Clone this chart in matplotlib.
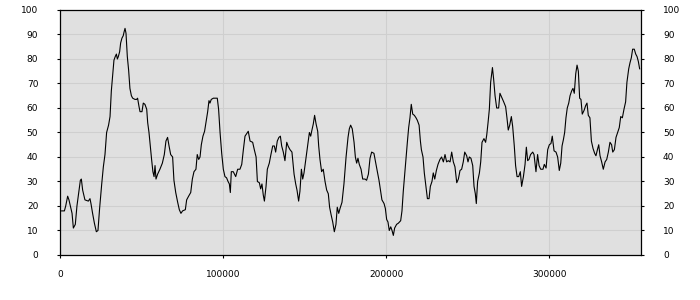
import matplotlib
matplotlib.use("Agg")
import matplotlib.pyplot as plt

# Data (x position, value)
x_vals = [
    700, 2400, 3200, 4400, 5200, 6200, 7100, 7900, 9100, 10100, 11100, 12200, 12800, 13600,
    15000, 17100, 18100, 18700, 19700, 20800, 22000, 23000, 24000, 25300, 26300, 27300,
    28300, 29500, 30400, 31200, 32000, 32800, 33600, 34300, 34900, 35500, 36300, 36900,
    37700, 38500, 39000, 39600, 40200, 41000, 41800, 42600, 43500, 44300, 45700, 46700,
    47300, 48200, 48800, 50000, 50800, 51800, 52900, 53500, 54300, 55100, 55900, 56700,
    57400, 58000, 58600, 59600, 61000, 62500, 63700, 64700, 65700, 66600, 67600, 68800,
    69600, 70700, 71900, 72900, 73900, 74900, 76600, 77400, 78600, 79900, 80900, 81900,
    83100, 83900, 84800, 85600, 86400, 87400, 88400, 89500, 90300, 91100, 91700, 92500,
    93800, 96200, 97000, 97900, 98900, 99900, 100900, 101900, 102800, 103600, 104200,
    104800, 106000, 107500, 108700, 110100,
    111200, 112200, 113200, 115200, 116300, 117900, 118900, 120000, 120800, 122000,
    122800, 123600, 124400, 125100, 126100, 126900, 128100, 129100, 130200, 131200,
    132000, 133000, 134000, 134900, 135700, 136700, 137700, 138800, 139600, 140800,
    142000, 143300, 144300, 145100, 146100, 146900, 147800, 148600, 149400, 150600,
    151600, 152700, 153500, 154100, 155100, 155900, 156800, 157800, 158400, 159200,
    160200, 161200, 162300, 163300, 164300, 165100, 166000, 167000, 168000, 169000,
    169800, 170700, 171500, 172700, 173900, 175200, 176400, 177200, 178000, 179000,
    180100, 180900, 181700, 182500, 183300, 184400, 185400, 186800, 187800, 188900,
    189900, 190900, 192300, 193400, 194400, 195400, 196400, 197200, 198500, 199300,
    200100, 200900, 201700, 202600, 203400, 204200, 205000, 206200, 207300, 208700,
    209500, 210300, 211100, 212000, 212800, 213600, 214400, 215200, 216100, 217100,
    218100, 218900, 220000, 220800, 221400, 222400, 223200, 224200, 225100, 226100,
    226900, 227900, 228700, 229600, 230600, 231600, 232800, 233800, 234900, 235900,
    236900, 237900, 239000, 240000, 241000, 242000, 243100, 244100, 245100, 246100,
    247100, 248000, 249200, 250000, 250800,
    251800, 252900, 253700, 254500, 255100, 255900, 257000, 257800, 258600, 259800,
    260800, 261500, 262300, 263100, 263900, 265000, 265700, 266600, 267600, 268800,
    269600, 270900, 271900, 273100, 273900, 274700, 275600, 276600, 277400, 278400,
    279200, 280100, 281100, 282100, 282900, 284000, 285000, 285800, 286600, 287400,
    288400, 289700, 290500, 291700, 292700, 293600, 294600, 296000, 296800, 297900,
    298900, 299900, 300900, 301700, 302800, 304000, 305000, 306000, 306900, 307700,
    308500, 309300, 310100, 310900, 311800, 312600, 313600, 314400, 315200, 316100,
    316900, 317700, 318500, 319300, 320100, 321200, 322200, 323000, 323800, 324800,
    325700, 326700, 327700, 328500, 329400, 330200, 331000, 332000, 333000, 334100,
    335100, 336100, 337100, 338100, 338800, 339800, 340800, 341800, 342800, 343700,
    344700, 345700, 346700, 347500, 348600, 349400, 350200, 351000, 352000, 352900,
    353700, 354500, 355300,
]
y_vals = [
    18, 18, 20, 24, 22.5, 19.5, 17, 11, 12.5, 20, 25, 30.5, 31, 26.5,
    22.5, 22, 23, 21, 17, 13, 9.5, 10, 19, 29, 36, 41,
    50, 53, 56.5, 67, 73, 79.5, 81, 82, 80, 81, 83, 86.5,
    88.5, 89.5, 91, 92.5, 90.5, 81, 75.5, 68, 65, 64, 63.5, 63.5,
    64, 60.5, 58.5, 58.5, 62, 61.5, 59.5, 54, 50, 44.5, 39, 34,
    32, 36.5, 31, 33, 35, 37.5, 41, 46.5, 48, 44.5, 41, 40,
    30.5, 25.5, 21.5, 18.5, 17, 18, 18.5, 22.5, 24, 25.5, 31, 34,
    35, 41, 39, 40, 45, 48.5, 50.5, 55, 58.5, 63, 62, 63.5,
    64, 64, 59.5, 50, 41.5, 35, 32, 31.5, 30, 29, 25.5,
    34, 34, 32, 35, 35,
    37, 43, 48.5, 50.5, 46.5, 46, 43, 40, 30, 29.5,
    27, 29, 24.5, 22, 28, 35, 37.5, 41, 44.5, 44.5,
    42, 46.5, 48, 48.5, 44.5, 42, 38.5, 46, 44.5, 43,
    42, 33, 29, 26.5, 22, 26, 35, 31, 33.5, 39.5,
    44.5, 50, 48.5, 50.5, 53.5, 57, 53.5, 50.5, 44.5, 39,
    34, 35, 30, 26.5, 25, 19.5, 16.5, 13.5, 9.5, 12.5,
    19.5, 17, 19, 21.5, 29, 40, 48, 51.5, 53, 51.5,
    46, 40, 37.5, 39.5, 37, 35, 31, 31, 30.5, 33,
    39.5, 42, 41.5, 37.5, 34, 30.5, 26, 22.5, 21, 19,
    14.5, 13.5, 10, 11.5, 10, 8, 11, 12.5, 13, 14,
    18, 26, 32.5, 40, 46, 52, 56, 61.5, 57.5, 57,
    56, 55, 53, 46.5, 43, 40, 33.5, 28, 23, 23,
    28, 30, 33.5, 31, 34.5, 37, 39, 40, 38, 41,
    38, 38.5, 38, 42, 38, 36, 29.5, 31, 34.5, 35,
    38, 42, 40.5, 38, 40,
    39.5, 36.5, 28, 25, 21, 30, 33.5, 38, 46, 47.5,
    46, 49, 54, 59.5, 70.5, 76.5, 72, 65, 60, 60,
    66, 64, 62.5, 60.5, 56, 51, 53, 56.5, 52.5, 44.5,
    36.5, 32, 32, 34, 28, 32, 37, 44, 38.5, 39,
    41, 42, 41, 34, 41, 36.5, 35, 35, 37, 35.5,
    43, 45, 45.5, 48.5, 42.5, 42, 40, 34.5, 37.5, 44.5,
    47, 50, 56, 60, 62, 65, 67, 68, 66, 74,
    77.5, 75, 64, 63.5, 57.5, 59, 61, 62, 57, 56,
    46.5, 43.5, 41.5, 40.5, 43, 45, 40.5, 38, 35, 38,
    39, 42, 46, 45, 42, 43, 48, 50, 52, 56.5,
    56, 59.5, 62.5, 70.5, 76, 78.5, 80.5, 84, 84, 82,
    81, 79, 76,
]
x_ticks = [0, 100000, 200000, 300000]
y_ticks = [0, 10, 20, 30, 40, 50, 60, 70, 80, 90, 100]

fig = plt.figure(figsize=(7, 3), dpi=100)
ax = fig.add_axes([0.0864, 0.15, 0.829, 0.8167])
ax.set_facecolor('#e0e0e0')
ax.plot(x_vals, y_vals, color='black', linewidth=0.8)

ax.set_xlim(0, 356000)
ax.set_ylim(0, 100)
ax.set_xticks(x_ticks)
ax.set_xticklabels([str(t) for t in x_ticks])
ax.set_yticks(y_ticks)
ax.grid(True, color='#cfcfcf', linewidth=0.8)
ax.set_axisbelow(True)

for s in ax.spines.values():
    s.set_color('black')
    s.set_linewidth(0.9)

ax.tick_params(axis='x', length=2, width=0.8, pad=9, labelsize=6.5, colors='black')
ax.tick_params(axis='y', which='both', left=True, right=True, labelleft=True,
               labelright=True, length=2, width=0.8, labelsize=6.5)
ax.tick_params(axis='y', pad=14)

fig.savefig('out.png', dpi=100)
